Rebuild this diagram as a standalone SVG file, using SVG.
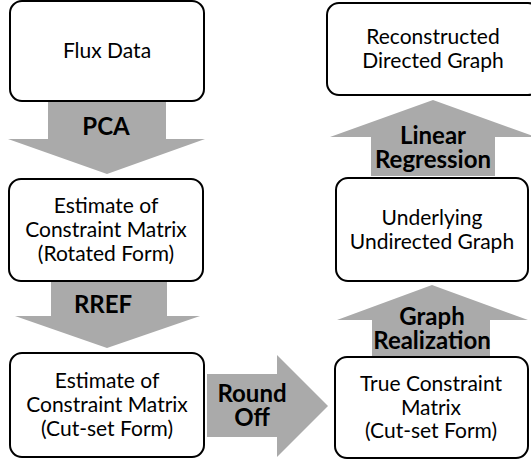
<svg xmlns="http://www.w3.org/2000/svg" width="531" height="461" viewBox="0 0 531 461">
<style>
.box{fill:#fff;stroke:#000;stroke-width:2}
.arr{fill:#aaaaaa;stroke:none}
.t{font-family:Lato,"Open Sans",sans-serif;font-size:21px;fill:#000;text-anchor:middle}
.b{font-family:Lato,"Open Sans",sans-serif;font-size:24px;font-weight:bold;fill:#000;text-anchor:middle}
</style>
<rect width="531" height="461" fill="#fff"/>
<g id="connectors">
<g id="pca">
<polygon class="arr" points="48,102 166,102 166,139 205,139 107,174 8,139 48,139"/>
<text class="b" x="106" y="135">PCA</text>
</g>
<g id="rref">
<polygon class="arr" points="51,282 167,282 167,316 200,316 107,348 15,316 51,316"/>
<text class="b" x="103" y="313">RREF</text>
</g>
<g id="roundoff">
<polygon class="arr" points="207,374 277,374 277,355 328,406 277,457 277,437 207,437"/>
<text class="b" x="252" y="402">Round</text>
<text class="b" x="252" y="426">Off</text>
</g>
<g id="linreg">
<polygon class="arr" points="433,100 536,137 495,137 495,176 371,176 371,137 330,137"/>
<text class="b" x="433" y="144">Linear</text>
<text class="b" x="433" y="168">Regression</text>
</g>
<g id="graphreal">
<polygon class="arr" points="432,285 528,320 490,320 490,356 372,356 372,320 337,320"/>
<text class="b" x="432" y="325">Graph</text>
<text class="b" x="432" y="349">Realization</text>
</g>
</g>
<g id="flux">
<rect class="box" x="10" y="1" width="194" height="100" rx="12"/>
<text class="t" x="107" y="58">Flux Data</text>
</g>
<g id="rotated">
<rect class="box" x="9" y="179" width="194" height="102" rx="12"/>
<text class="t" x="106" y="213">Estimate of</text>
<text class="t" x="106" y="237">Constraint Matrix</text>
<text class="t" x="106" y="261">(Rotated Form)</text>
</g>
<g id="cutset">
<rect class="box" x="10" y="353" width="194" height="104" rx="12"/>
<text class="t" x="107" y="388">Estimate of</text>
<text class="t" x="107" y="412">Constraint Matrix</text>
<text class="t" x="107" y="436">(Cut-set Form)</text>
</g>
<g id="reconstructed">
<rect class="box" x="327" y="3" width="213" height="92" rx="12"/>
<text class="t" x="433" y="44">Reconstructed</text>
<text class="t" x="433" y="68">Directed Graph</text>
</g>
<g id="underlying">
<rect class="box" x="336" y="178" width="192" height="103" rx="12"/>
<text class="t" x="432" y="225">Underlying</text>
<text class="t" x="432" y="249">Undirected Graph</text>
</g>
<g id="trueconstraint">
<rect class="box" x="335" y="357" width="193" height="101" rx="12"/>
<text class="t" x="431" y="391">True Constraint</text>
<text class="t" x="431" y="415">Matrix</text>
<text class="t" x="431" y="438">(Cut-set Form)</text>
</g>
</svg>
